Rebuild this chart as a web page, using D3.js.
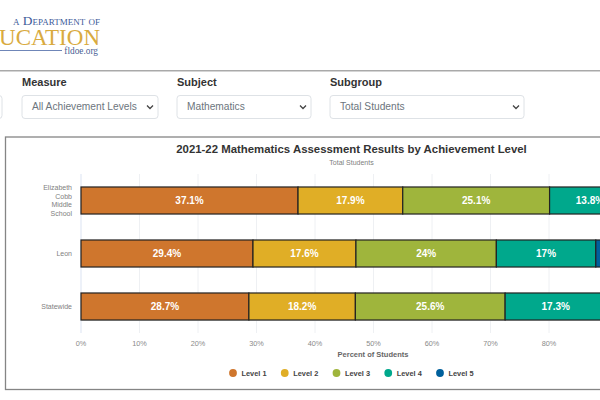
<!DOCTYPE html>
<html>
<head>
<meta charset="utf-8">
<script src="https://cdn.jsdelivr.net/npm/d3@7"></script>
<style>
  html, body { margin: 0; padding: 0; background: #fff; overflow: hidden; }
  svg { display: block; }
  text { font-family: "Liberation Sans", Arial, sans-serif; }
</style>
</head>
<body>
<svg id="chart"></svg>
<script>
// data
const schools = ["Elizabeth Cobb Middle School", "Leon", "Statewide"];
const levels = ["Level 1", "Level 2", "Level 3", "Level 4", "Level 5"];
const level1 = [37.1, 29.4, 28.7];
const level2 = [17.9, 17.6, 18.2];
const level3 = [25.1, 24, 25.6];
const level4 = [13.8, 17, 17.3];
const level5 = [6.1, 12, 10.2];
const levelColors = ["#cf762d", "#e0ae26", "#9fb53c", "#00a88c", "#00609c"];
const xTicks = [0, 10, 20, 30, 40, 50, 60, 70, 80];
const dropdowns = [
  { label: "Measure", value: "All Achievement Levels", x: 22, w: 136 },
  { label: "Subject", value: "Mathematics", x: 177, w: 134 },
  { label: "Subgroup", value: "Total Students", x: 330, w: 194 }
];

const svg = d3.select("#chart").attr("width", 600).attr("height", 400);

/***********************
 * header
 ************************/
svg.append("text").attr("x", 100).attr("y", 25).attr("text-anchor", "end")
  .attr("font-size", 13.4)
  .attr("fill", "#3d5a99").style("font-variant", "small-caps")
  .style("font-family", "'Liberation Serif', serif")
  .text("a Department of");
svg.append("text").attr("x", 100).attr("y", 45).attr("text-anchor", "end")
  .attr("font-size", 23).attr("fill", "#d9ab3f")
  .style("font-family", "'Liberation Serif', serif")
  .text("UCATION");
svg.append("line").attr("x1", 0).attr("x2", 62).attr("y1", 50.5).attr("y2", 50.5)
  .attr("stroke", "#6f86b8").attr("stroke-width", 1);
svg.append("text").attr("x", 98).attr("y", 53.5).attr("text-anchor", "end")
  .attr("font-size", 9.3).attr("fill", "#4a5f95")
  .style("font-family", "'Liberation Serif', serif").text("fldoe.org");
svg.append("rect").attr("x", 0).attr("y", 70).attr("width", 600).attr("height", 1.5).attr("fill", "#a9a9a9");

// the dropdown row, first one is cut by the window edge
svg.append("rect").attr("x", -20).attr("y", 95.5).attr("width", 22).attr("height", 23).attr("rx", 3)
  .attr("fill", "#fff").attr("stroke", "#dee2e6");

const dd = svg.append("g").selectAll("g").data(dropdowns).join("g");
dd.append("text").attr("x", (d) => d.x).attr("y", 86)
  .attr("font-size", 11).attr("font-weight", "bold").attr("fill", "#333").text((d) => d.label);
dd.append("rect").attr("x", (d) => d.x).attr("y", 95.5).attr("width", (d) => d.w).attr("height", 23).attr("rx", 3)
  .attr("fill", "#fff").attr("stroke", "#dee2e6");
dd.append("text").attr("x", (d) => d.x + 10).attr("y", 110)
  .attr("font-size", 10.2).attr("fill", "#6c757d").text((d) => d.value);
dd.append("path")
  .attr("d", (d) => `M${d.x + d.w - 11},105.5l3,3l3,-3`)
  .attr("fill", "none").attr("stroke", "#444").attr("stroke-width", 1.3);

// chart frame runs off the right edge
svg.append("rect").attr("x", 5.5).attr("y", 137).attr("width", 640).attr("height", 252.5)
  .attr("fill", "#fff").attr("stroke", "#858585").attr("stroke-width", 1.3);

/***********************
 * chart
 ************************/
const x = d3.scaleLinear().domain([0, 100]).range([81, 666]);
const y = d3.scaleBand().domain(schools).range([174, 333]).paddingInner(0.49).paddingOuter(0.245);

svg.append("g").selectAll("line").data(xTicks).join("line")
  .attr("x1", (d) => x(d)).attr("x2", (d) => x(d))
  .attr("y1", 174).attr("y2", 333)
  .attr("stroke", (d) => (d === 0 ? "#dbe3f2" : "#eef0f3")).attr("stroke-width", 1);
svg.append("line").attr("x1", 81).attr("x2", 666).attr("y1", 320.5).attr("y2", 320.5).attr("stroke", "#e6e6e6");

svg.append("g").selectAll("text").data(xTicks).join("text")
  .attr("x", (d) => x(d)).attr("y", 346).attr("text-anchor", "middle")
  .attr("font-size", 7.3).attr("fill", "#8a8a8a").text((d) => d + "%");

const seriesValues = [level1, level2, level3, level4, level5];
const rows = schools.map((s, i) => {
  let sum = 0;
  return seriesValues.map((vals, j) => {
    const seg = { school: s, level: j, value: vals[i], start: sum };
    sum += vals[i];
    return seg;
  });
}).flat();

svg.append("g").selectAll("rect").data(rows).join("rect")
  .attr("x", (d) => x(d.start))
  .attr("y", (d) => y(d.school))
  .attr("width", (d) => x(d.start + d.value) - x(d.start))
  .attr("height", y.bandwidth())
  .attr("fill", (d) => levelColors[d.level])
  .attr("stroke", "#222").attr("stroke-width", 1.2);

// level 5 labels sit past the window edge, so they are left out
svg.append("g").selectAll("text").data(rows.filter((d) => d.level < 4)).join("text")
  .attr("x", (d) => x(d.start + d.value / 2))
  .attr("y", (d) => y(d.school) + y.bandwidth() / 2 + 3.5)
  .attr("text-anchor", "middle").attr("font-size", 10).attr("font-weight", "bold")
  .attr("fill", "#fff").text((d) => d.value + "%");

// y labels, long school name wraps one word per line
const yLabels = svg.append("g").selectAll("text").data(schools).join("text")
  .attr("text-anchor", "end").attr("font-size", 7).attr("fill", "#808080");
yLabels.each(function (d) {
  const words = d.length > 12 ? d.split(" ") : [d];
  const mid = y(d) + y.bandwidth() / 2;
  d3.select(this).selectAll("tspan").data(words).join("tspan")
    .attr("x", 72)
    .attr("y", (w, i) => mid + 2.5 + (i - (words.length - 1) / 2) * 8.8)
    .text((w) => w);
});

/***********************
 * titles and legend
 ************************/
svg.append("text").attr("x", 351.5).attr("y", 153).attr("text-anchor", "middle")
  .attr("font-size", 11.4).attr("font-weight", "bold").attr("fill", "#333")
  .text("2021-22 Mathematics Assessment Results by Achievement Level");
svg.append("text").attr("x", 351.5).attr("y", 165).attr("text-anchor", "middle")
  .attr("font-size", 7).attr("fill", "#808080").text("Total Students");
svg.append("text").attr("x", 373).attr("y", 357).attr("text-anchor", "middle")
  .attr("font-size", 7.5).attr("font-weight", "bold").attr("fill", "#666").text("Percent of Students");

const legendX = d3.scalePoint().domain(levels).range([233, 440]);
const legend = svg.append("g").selectAll("g").data(levels).join("g");
legend.append("circle").attr("cx", (d) => legendX(d)).attr("cy", 373).attr("r", 3.9)
  .attr("fill", (d, i) => levelColors[i]);
legend.append("text").attr("x", (d) => legendX(d) + 8.5).attr("y", 376)
  .attr("font-size", 7.4).attr("font-weight", "bold").attr("fill", "#444").text((d) => d);
</script>
</body>
</html>
